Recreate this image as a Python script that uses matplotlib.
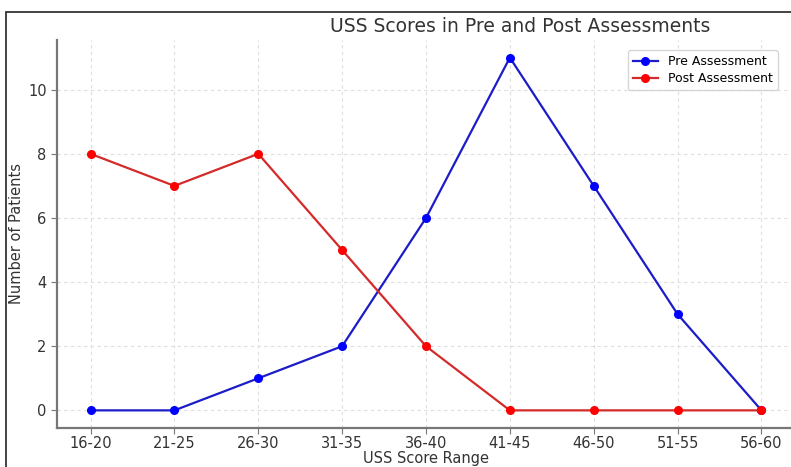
import matplotlib.pyplot as plt
from matplotlib.patches import Rectangle

# score ranges on the x axis
score_ranges = ["16-20", "21-25", "26-30", "31-35", "36-40",
                "41-45", "46-50", "51-55", "56-60"]
# number of patients per range
pre_counts = [0, 0, 1, 2, 6, 11, 7, 3, 0]
post_counts = [8, 7, 8, 5, 2, 0, 0, 0, 0]

W, H = 791, 467
fig = plt.figure(figsize=(W / 100, H / 100), dpi=100)
fig.patch.set_facecolor("white")

# axes box in pixels (left, bottom edge, right edge cropped past the image)
left, right, top, bottom = 57, 795, 40, 428
ax = fig.add_axes([left / W, 1 - bottom / H, (right - left) / W, (bottom - top) / H])

x = range(len(score_ranges))
ax.plot(x, pre_counts, marker="o", color="#1c1cc8", markerfacecolor="blue",
        markeredgecolor="blue", markersize=5.5, linewidth=1.6, label="Pre Assessment")
ax.plot(x, post_counts, marker="o", color="#d42a2a", markerfacecolor="red",
        markeredgecolor="red", markersize=5.5, linewidth=1.6, label="Post Assessment")

ax.set_xticks(list(x))
ax.set_xticklabels(score_ranges)
ax.set_xlim(-0.4, 8.4)
ax.set_ylim(-0.55, 11.55)
ax.set_yticks([0, 2, 4, 6, 8, 10])

ax.grid(True, linestyle=(0, (3, 3)), color="#dedede", linewidth=0.8)
for s in ["top", "right"]:
    ax.spines[s].set_visible(False)
for s in ["left", "bottom"]:
    ax.spines[s].set_color("#777777")
    ax.spines[s].set_linewidth(1.6)
ax.tick_params(colors="#777777", labelcolor="#333333", labelsize=10.5, length=4)
ax.tick_params(axis="x", pad=1.5)

ax.set_xlabel("USS Score Range", fontsize=10.5, color="#333333", labelpad=0)
ax.set_ylabel("Number of Patients", fontsize=10.5, color="#333333", labelpad=3)

fig.text(520 / W, 1 - 27 / H, "USS Scores in Pre and Post Assessments",
         ha="center", va="center", fontsize=13.5, color="#333333")

ax.legend(loc="upper right", bbox_to_anchor=(784 / W, 1 - 44 / H),
          bbox_transform=fig.transFigure, fontsize=9, frameon=True,
          edgecolor="#cccccc", handlelength=2, borderpad=0.4, labelspacing=0.3)

# thin frame from the screenshot on the left and top
fig.patches.append(Rectangle((6 / W, -0.1), 2, 1.1 - 12 / H, transform=fig.transFigure,
                             fill=False, edgecolor="#222222", linewidth=1.2))

fig.savefig("out.png", dpi=100)
